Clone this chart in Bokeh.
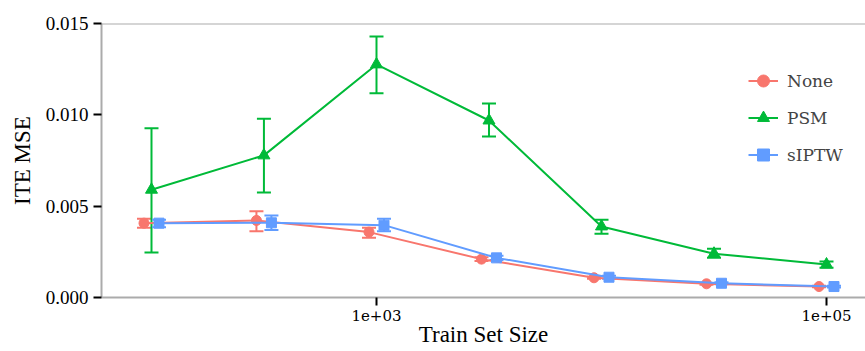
from bokeh.plotting import figure
from bokeh.models import (Range1d, FixedTicker, Whisker, TeeHead, ColumnDataSource,
                          Span, Legend, LegendItem, PrintfTickFormatter)
from bokeh.embed import file_html
from bokeh.resources import INLINE

# ---- data ----
sizes = [100, 316, 1000, 3162, 10000, 31623, 100000]
methods = ["None", "PSM", "sIPTW"]

none_mean = [0.00407, 0.00422, 0.00358, 0.00210, 0.00108, 0.00075, 0.00060]
none_lo   = [0.00382, 0.00363, 0.00327, 0.00200, 0.00102, 0.00070, 0.00056]
none_hi   = [0.00431, 0.00472, 0.00382, 0.00220, 0.00114, 0.00080, 0.00064]

psm_mean = [0.00590, 0.00778, 0.01276, 0.00969, 0.00389, 0.00240, 0.00181]
psm_lo   = [0.00246, 0.00575, 0.01118, 0.00881, 0.00349, 0.00217, 0.00163]
psm_hi   = [0.00927, 0.00978, 0.01429, 0.01062, 0.00425, 0.00267, 0.00197]

siptw_mean = [0.00407, 0.00409, 0.00396, 0.00217, 0.00111, 0.00078, 0.00060]
siptw_lo   = [0.00385, 0.00370, 0.00363, 0.00205, 0.00103, 0.00072, 0.00055]
siptw_hi   = [0.00425, 0.00449, 0.00431, 0.00229, 0.00119, 0.00084, 0.00065]

y_ticks = [0.0, 0.005, 0.010, 0.015]
x_ticks = [1000, 100000]
x_tick_labels = ["1e+03", "1e+05"]

colors = {"None": "#F8766D", "PSM": "#00BA38", "sIPTW": "#619CFF"}
markers = {"None": "circle", "PSM": "triangle", "sIPTW": "square"}
msize = {"None": 10, "PSM": 12, "sIPTW": 10}
dodge = {"None": -0.0333, "PSM": 0.0, "sIPTW": 0.0333}  # decades
series = {
    "None": (none_mean, none_lo, none_hi),
    "PSM": (psm_mean, psm_lo, psm_hi),
    "sIPTW": (siptw_mean, siptw_lo, siptw_hi),
}

FONT = "Liberation Serif"
GRAY = "#ababab"

p = figure(width=865, height=351, output_backend="svg", toolbar_location=None,
           x_axis_type="log",
           x_range=Range1d(10 ** 1.7778, 10 ** 5.1733),
           y_range=Range1d(0.0, 0.015),
           min_border_left=101, min_border_right=0, min_border_top=23,
           min_border_bottom=54)
p.outline_line_color = None
p.xgrid.visible = False
p.ygrid.visible = False
p.background_fill_color = "white"

legend_items = []
for m in methods:
    mean, lo, hi = series[m]
    xs = [s * 10 ** dodge[m] for s in sizes]
    src = ColumnDataSource(dict(x=xs, y=mean, lo=lo, hi=hi))
    w = Whisker(source=src, base="x", lower="lo", upper="hi", dimension="height",
                line_color=colors[m], line_width=2,
                upper_head=TeeHead(size=14, line_color=colors[m], line_width=2),
                lower_head=TeeHead(size=14, line_color=colors[m], line_width=2))
    p.add_layout(w)
    r1 = p.line("x", "y", source=src, line_color=colors[m], line_width=2)
    r2 = p.scatter("x", "y", source=src, marker=markers[m], size=msize[m],
                   fill_color=colors[m], line_color=colors[m])
    legend_items.append(LegendItem(label=m, renderers=[r1, r2]))

# top border line
p.add_layout(Span(location=0.015, dimension="width", line_color=GRAY, line_width=2))

# axes
p.yaxis.ticker = FixedTicker(ticks=y_ticks)
p.yaxis.formatter = PrintfTickFormatter(format="%.3f")
p.xaxis.ticker = FixedTicker(ticks=x_ticks, minor_ticks=[])
p.xaxis.major_label_overrides = {t: l for t, l in zip(x_ticks, x_tick_labels)}

for ax in (p.xaxis[0], p.yaxis[0]):
    ax.axis_line_color = GRAY
    ax.axis_line_width = 2
    ax.major_tick_line_color = "black"
    ax.major_tick_line_width = 2
    ax.major_tick_out = 8
    ax.major_tick_in = 0
    ax.minor_tick_line_color = None
    ax.major_label_text_color = "black"
    ax.axis_label_text_font = FONT
    ax.axis_label_text_font_style = "normal"
    ax.axis_label_text_font_size = "23px"
    ax.axis_label_text_color = "black"

p.xaxis[0].major_label_text_font = "DejaVu Serif"
p.xaxis[0].major_label_text_font_size = "15px"
p.yaxis[0].major_label_text_font = "Times"
p.yaxis[0].major_label_text_font_size = "19px"
p.xaxis[0].major_label_standoff = 4
p.yaxis[0].major_label_standoff = 5
p.xaxis[0].axis_label = "Train Set Size"
p.yaxis[0].axis_label = "ITE MSE"
p.xaxis[0].axis_label_standoff = -2
p.yaxis[0].axis_label_standoff = 8

legend = Legend(items=legend_items, location=(647, 124),
                glyph_width=30, glyph_height=37, label_height=37, spacing=0,
                padding=0, margin=0, label_standoff=9,
                label_text_font="DejaVu Serif", label_text_font_style="normal",
                label_text_font_size="17px",
                border_line_color=None, background_fill_alpha=0)
p.add_layout(legend, "center")

open("out.html", "w").write(file_html(p, INLINE))
